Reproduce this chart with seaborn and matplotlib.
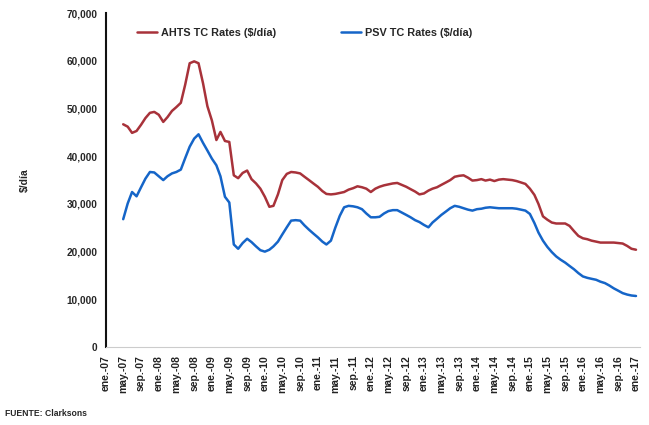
import numpy as np
import pandas as pd
import matplotlib.pyplot as plt
import seaborn as sns

# monthly rates, May 2007 .. Jan 2017 ($/día)
ahts = [46700, 46200, 44900, 45300, 46600, 48000, 49100, 49300, 48700, 47200,
        48200, 49500, 50300, 51200, 55000, 59500, 59900, 59500, 55300, 50500,
        47500, 43400, 45100, 43200, 43000, 36000, 35400, 36500, 37000, 35200,
        34300, 33200, 31500, 29400, 29600, 32000, 35000, 36300, 36700, 36600,
        36400, 35700, 35000, 34300, 33600, 32700, 32100, 32000, 32100, 32300,
        32500, 33000, 33300, 33700, 33500, 33200, 32500, 33200, 33600, 33900,
        34100, 34300, 34400, 34000, 33600, 33100, 32600, 32000, 32200, 32800,
        33200, 33500, 34000, 34500, 35000, 35700, 35900, 36000, 35500, 34900,
        35000, 35200, 34900, 35100, 34800, 35100, 35200, 35100, 35000, 34800,
        34500, 34200, 33200, 31900, 30000, 27400, 26700, 26100, 25900, 25900,
        25900, 25400, 24300, 23300, 22800, 22600, 22300, 22100, 21900, 21900,
        21900, 21900, 21800, 21700, 21200, 20600, 20400]

psv = [26800, 30100, 32500, 31600, 33500, 35300, 36700, 36600, 35800, 35000,
       35800, 36400, 36700, 37200, 39600, 42000, 43700, 44600, 42800, 41200,
       39500, 38100, 35800, 31500, 30300, 21500, 20600, 21800, 22700, 22000,
       21100, 20300, 20000, 20400, 21100, 22100, 23600, 25100, 26500, 26600,
       26500, 25500, 24600, 23800, 23000, 22100, 21500, 22300, 25000, 27500,
       29300, 29600, 29500, 29300, 28900, 28000, 27200, 27200, 27300, 28000,
       28500, 28700, 28700, 28200, 27700, 27200, 26600, 26200, 25600, 25100,
       26100, 26900, 27700, 28400, 29100, 29600, 29400, 29100, 28800, 28600,
       28900, 29000, 29200, 29300, 29200, 29100, 29100, 29100, 29100, 29000,
       28800, 28600, 27900, 26000, 24000, 22300, 21000, 19900, 19000, 18300,
       17700, 17000, 16300, 15500, 14800, 14500, 14300, 14100, 13700, 13400,
       12900, 12300, 11800, 11300, 11000, 10800, 10700]

dates = pd.date_range("2007-05-01", periods=len(ahts), freq="MS")
series_names = ["AHTS TC Rates ($/día)", "PSV TC Rates ($/día)"]
colors = ["#a8323a", "#1565c8"]

tick_months = ["ene.", "may.", "sep."]
tick_dates = pd.date_range("2007-01-01", "2017-01-01", freq="4MS")
tick_labels = [f"{tick_months[(d.month - 1) // 4]}-{d.year % 100:02d}" for d in tick_dates]
y_ticks = [0, 10000, 20000, 30000, 40000, 50000, 60000, 70000]

df = pd.DataFrame({
    "fecha": np.concatenate([dates, dates]),
    "valor": ahts + psv,
    "serie": [series_names[0]] * len(ahts) + [series_names[1]] * len(psv),
})

sns.set_style("white")
plt.rcParams["font.family"] = ["Liberation Sans", "DejaVu Sans"]

fig = plt.figure(figsize=(6.49, 4.25), dpi=100)
ax = fig.add_axes([0.163, 0.1835, 0.823, 0.7855])

sns.lineplot(data=df, x="fecha", y="valor", hue="serie", palette=colors,
             hue_order=series_names, linewidth=1.8, ax=ax)

ax.set_xlim(pd.Timestamp("2007-01-01"), pd.Timestamp("2017-01-28"))
ax.set_ylim(0, 70000)
ax.set_xticks(tick_dates)
ax.set_xticklabels(tick_labels, rotation=90, fontsize=7.5, fontweight="heavy")
ax.set_yticks(y_ticks)
ax.set_yticklabels(["0" if v == 0 else f"{v:,}" for v in y_ticks], fontsize=7.2, fontweight="heavy")
ax.tick_params(axis="both", length=3, width=0.8, pad=3)
ax.tick_params(axis="x", colors="#222222")

ax.set_xlabel("")
ax.set_ylabel("$/día", fontsize=7.5, fontweight="heavy", labelpad=26)

for s in ["top", "right"]:
    ax.spines[s].set_visible(False)
ax.spines["left"].set_linewidth(1.5)
ax.spines["left"].set_color("#111111")
ax.spines["bottom"].set_color("#cccccc")

ax.legend(loc="upper left", bbox_to_anchor=(0.04, 0.985), ncol=2, frameon=False,
          prop={"weight": "heavy", "size": 7.8}, handlelength=1.9,
          handletextpad=0.3, columnspacing=6.0)

fig.text(0.008, 0.022, "FUENTE: Clarksons", fontsize=6.2, fontweight="heavy")

plt.savefig("out.png", dpi=100)
